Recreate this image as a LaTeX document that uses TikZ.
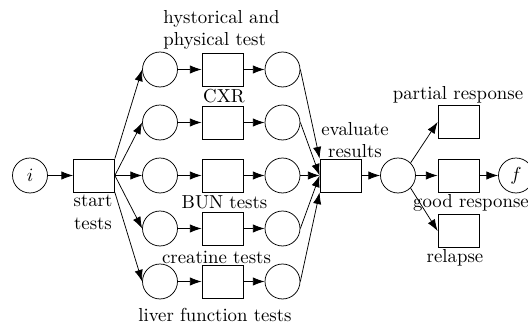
\documentclass[tikz,border=0pt]{standalone}
\usetikzlibrary{arrows.meta}
\begin{document}
\begin{tikzpicture}[x=0.532pt,y=-0.532pt,
  place/.style={circle,draw,minimum size=18.6pt,inner sep=0pt},
  transition/.style={rectangle,draw,minimum width=21.8pt,minimum height=17.6pt,inner sep=0pt},
  lbl/.style={inner sep=0pt},
  arc/.style={-{Latex[length=6.2pt,width=4.4pt]}}]
\useasboundingbox (0,0) rectangle (528,326);

% source and sink places
\node[place] (i) at (30,175.5) {$i$};
\node[place] (f) at (516,175.5) {$f$};

% start transition
\node[transition] (start) at (94,175.5) {};

% the five parallel test branches
\foreach \k/\y in {1/69.5,2/122.5,3/175.5,4/228.5,5/281.5}{
  \node[place] (a\k) at (160,\y) {};
  \node[transition] (t\k) at (222.5,\y) {};
  \node[place] (b\k) at (282.5,\y) {};
}

% evaluation and outcomes
\node[transition] (eval) at (340.5,175.5) {};
\node[place] (p) at (398,175.5) {};
\node[transition] (partial) at (458.5,122) {};
\node[transition] (good) at (458.5,175.5) {};
\node[transition] (relapse) at (458.5,231) {};

% labels
\node[lbl,anchor=west,align=left] (lh) at (163,30) {hystorical and\\physical test};
\node[lbl,anchor=base] (lcxr) at (224,103) {CXR};
\node[lbl,anchor=base] (lbun) at (224.5,209) {BUN tests};
\node[lbl,anchor=base] (lcre) at (216.5,264) {creatine tests};
\node[lbl,anchor=base] (lliv) at (215,322) {liver function tests};
\node[lbl,align=center] (lstart) at (93,212.5) {start\\tests};
\node[lbl,align=center] (leval) at (355,140) {evaluate\\results};
\node[lbl,anchor=base] (lpart) at (458,100) {partial response};
\node[lbl,anchor=base] (lgood) at (471,208) {good response};
\node[lbl,anchor=base] (lrel) at (455,263) {relapse};

% arcs
\draw[arc] (i) -- (start);
\draw[arc] (start.north east) -- (a1.west);
\draw[arc] (start.east) -- (a2.west);
\draw[arc] (start.east) -- (a3.west);
\draw[arc] (start.east) -- (a4.west);
\draw[arc] (start.south east) -- (a5.west);
\foreach \k in {1,...,5}{
  \draw[arc] (a\k) -- (t\k);
  \draw[arc] (t\k) -- (b\k);
}
\draw[arc] (b1.east) -- (eval.north west);
\draw[arc] (b2.east) -- (eval.west);
\draw[arc] (b3.east) -- (eval.west);
\draw[arc] (b4.east) -- (eval.west);
\draw[arc] (b5.east) -- (eval.south west);
\draw[arc] (eval) -- (p);
\draw[arc] (p.north east) -- (partial.west);
\draw[arc] (p) -- (good);
\draw[arc] (p.south east) -- (relapse.west);
\draw[arc] (good) -- (f);
\end{tikzpicture}
\end{document}
